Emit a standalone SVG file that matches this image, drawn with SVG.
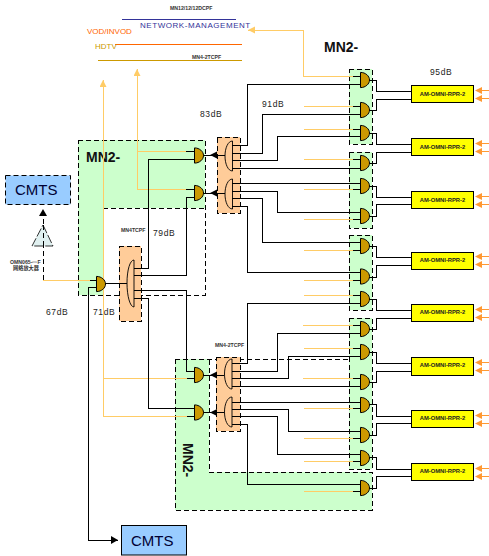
<svg xmlns="http://www.w3.org/2000/svg" xmlns:xlink="http://www.w3.org/1999/xlink" width="489" height="556" viewBox="0 0 489 556">
<style>
text{font-family:"Liberation Sans",Arial,sans-serif;fill:#000}
.db{font-size:8.5px;letter-spacing:.6px;fill:#222}
.tiny{font-size:5.2px;font-weight:bold;fill:#333}
.mn{font-size:14px;font-weight:bold;fill:#111}
.cm{font-size:15px;fill:#003}
.am{font-size:5.8px;font-weight:bold;fill:#222;text-anchor:middle}
.g{fill:#ccffcc;stroke:none}
.d{fill:none;stroke:#000;stroke-width:1;stroke-dasharray:5 3;shape-rendering:crispEdges}
.dg{fill:#ccffcc;stroke:#000;stroke-width:1;stroke-dasharray:5 3;shape-rendering:crispEdges}
.pad{fill:#ffcc99;stroke:#000;stroke-width:1;stroke-dasharray:5 3;shape-rendering:crispEdges}
.k{fill:none;stroke:#000;stroke-width:1;shape-rendering:crispEdges}
.o{fill:none;stroke:#ffcc66;stroke-width:1;shape-rendering:crispEdges}
.box{fill:#ffff00;stroke:#000;stroke-width:1}
.gate{fill:#cc9900;stroke:#000;stroke-width:1}
.spl{fill:none;stroke:#000;stroke-width:.9}
.ar{fill:#ff9933;stroke:none}
.rule{fill:none;stroke-width:1;shape-rendering:crispEdges}
</style>
<defs>
<path id="gate" class="gate" d="M0,-7.6C5,-7.6 9,-4 9,0C9,4 5,7.600 0,7.600Z"/>
<path id="spl" class="spl" d="M7.500,0C3,0 0,7 0,15C0,23 3,30 7.500,30Z"/>
<g id="amin"><path class="ar" d="M2,0L9,-3.500V3.500Z"/><path class="rule" d="M8,0H16" stroke="#ff9933"/></g>
<marker id="ob" markerWidth="8" markerHeight="8" refX="7" refY="3.500" orient="auto" markerUnits="userSpaceOnUse"><path d="M0,0L7,3.500L0,7Z" fill="#ffcc66"/></marker>
<marker id="kb" markerWidth="8" markerHeight="8" refX="7" refY="4" orient="auto" markerUnits="userSpaceOnUse"><path d="M0,0L7,4L0,8Z" fill="#000"/></marker>
</defs>

<g id="legend">
<text class="tiny" x="170" y="10">MN12/12/12DCPF</text>
<path class="rule" d="M122,19.500H236" stroke="#333399"/>
<text x="140" y="28" font-size="8" letter-spacing=".55" style="fill:#333399">NETWORK-MANAGEMENT</text>
<text x="87" y="34" font-size="8" style="fill:#ff6600">VOD/INVOD</text>
<path class="rule" d="M115,44.500H242" stroke="#ff6600"/>
<text x="95" y="49" font-size="8" style="fill:#cc9900">HDTV</text>
<path class="rule" d="M98,60.500H242" stroke="#cc9900"/>
<text class="tiny" x="192" y="59">MN4-2TCPF</text>
</g>

<g id="zone-left">
<path class="g" d="M78,140H205V208H103V295H78Z"/>
<path class="d" d="M78,140H205V295H78ZM103,208H205"/>
<text class="mn" x="86" y="162">MN2-</text>
</g>
<g id="zone-bottom">
<path class="g" d="M175,359H209V472H372V510H175Z"/>
<path class="d" d="M175,359H350M175,359V510H372V472H209V359"/>
<text class="mn" transform="translate(183,443) rotate(90)">MN2-</text>
</g>
<g id="zone-r1"><rect class="dg" x="349" y="69" width="23" height="75"/></g>
<g id="zone-r2"><rect class="dg" x="349" y="152" width="23" height="76"/></g>
<g id="zone-r3"><rect class="dg" x="349" y="235" width="23" height="75"/></g>
<g id="zone-r4"><rect class="dg" x="349" y="318" width="23" height="151"/></g>
<text class="mn" x="324" y="52">MN2-</text>

<g id="pad-1"><rect class="pad" x="217" y="137" width="23" height="76"/><use href="#spl" x="225" y="141"/><use href="#spl" x="225" y="179"/></g>
<g id="pad-2"><rect class="pad" x="119" y="246" width="22" height="75"/><path class="spl" d="M134,260C130,260 127,270 127,283C127,296 130,307 134,307Z"/></g>
<g id="pad-3"><rect class="pad" x="216" y="357" width="24" height="74"/><use href="#spl" x="224.500" y="359"/><use href="#spl" x="224.500" y="397"/></g>

<g id="connectors">
<path class="o" d="M353,76H303V30H248" marker-end="url(#ob)"/>
<path class="o" d="M186,151H137V69" marker-end="url(#ob)"/>
<path class="o" d="M186,189H137V151"/>
<path class="o" d="M187,416H103V80" marker-end="url(#ob)"/>
<path class="o" d="M187,378H103"/>
<path class="o" d="M43,280H90"/>
<path class="o" d="M304,106H353M304,129H353M304,159H353M304,189H353M304,219H353M304,250H353M304,280H353M304,295H353M303,325H353M304,348H353M303,378H353M304,408H353M304,438H353M304,461H353M304,491H353"/>
<path class="k" d="M353,76H360M353,106H360M353,129H360M353,159H360M353,189H360M353,219H360M353,250H360M353,280H360M353,295H360M353,325H360M353,348H360M353,378H360M353,408H360M353,438H360M353,461H360M353,491H360M186,151H194M186,189H194M187,378H194M187,416H194M90,280H96"/>
<path class="k" d="M232,145H247V84H360M232,153H262V114H360M232,160H277V136H360M232,168H360M232,183H360M232,191H277V212H360M232,198H262V242H360M232,206H247V272H360"/>
<path class="k" d="M232,363H247V303H360M232,371H277V333H360M232,378H288V356H360M232,386H360M232,402H360M232,409H288V431H360M232,416H277V454H360M232,424H247V484H360"/>
<path class="k" d="M134,268H148V159H194M134,275H186V197H194M134,290H186V371H194M134,298H148V408H194"/>
<path class="k" d="M96,287H88V540H118" marker-end="url(#kb)"/>
<path class="k" d="M103,283H127"/>
<path class="k" d="M203,155H225"/><path d="M217,151.500V158.500L210,155Z" fill="#000"/>
<path class="k" d="M203,193H225"/><path d="M217,189.500V196.500L210,193Z" fill="#000"/>
<path class="k" d="M203,375H224"/><path d="M217,371.500V378.500L210,375Z" fill="#000"/>
<path class="k" d="M203,412H224"/><path d="M217,409V416L210,412.500Z" fill="#000"/>
<path class="d" d="M43,280V214"/>
<path d="M43,209L47,216H39Z" fill="#000"/>
<path class="k" d="M369,80H376V91H411M369,110H376V99H411M369,133H376V144H411M369,163H376V152H411M369,186H376V197H411M369,216H376V204H411M369,246H376V257H411M369,277H376V265H411M369,299H376V310H411M369,329H376V318H411M369,352H376V363H411M369,382H376V371H411M369,404H376V416H411M369,435H376V423H411M369,457H376V469H411M369,488H376V476H411"/>
</g>

<g id="G-U1"><use href="#gate" x="194.500" y="155.500"/></g>
<g id="G-U2"><use href="#gate" x="194.500" y="193"/></g>
<g id="G-M"><use href="#gate" x="96.500" y="284"/></g>
<g id="G-L1"><use href="#gate" x="194.500" y="375"/></g>
<g id="G-L2"><use href="#gate" x="194.500" y="412.500"/></g>
<g id="G1"><use href="#gate" x="360.500" y="80"/></g>
<g id="G2"><use href="#gate" x="360.500" y="110"/></g>
<g id="G3"><use href="#gate" x="360.500" y="133"/></g>
<g id="G4"><use href="#gate" x="360.500" y="163"/></g>
<g id="G5"><use href="#gate" x="360.500" y="186"/></g>
<g id="G6"><use href="#gate" x="360.500" y="216"/></g>
<g id="G7"><use href="#gate" x="360.500" y="246"/></g>
<g id="G8"><use href="#gate" x="360.500" y="276.500"/></g>
<g id="G9"><use href="#gate" x="360.500" y="299"/></g>
<g id="G10"><use href="#gate" x="360.500" y="329"/></g>
<g id="G11"><use href="#gate" x="360.500" y="352"/></g>
<g id="G12"><use href="#gate" x="360.500" y="382"/></g>
<g id="G13"><use href="#gate" x="360.500" y="405"/></g>
<g id="G14"><use href="#gate" x="360.500" y="435"/></g>
<g id="G15"><use href="#gate" x="360.500" y="458"/></g>
<g id="G16"><use href="#gate" x="360.500" y="488"/></g>

<g id="AM1"><rect class="box" x="411.500" y="85.500" width="62" height="17"/><text class="am" x="442.500" y="96">AM-OMNI-RPR-2</text><use href="#amin" x="473" y="90.500"/><use href="#amin" x="473" y="98.500"/></g>
<g id="AM2"><rect class="box" x="411.500" y="138.500" width="62" height="17"/><text class="am" x="442.500" y="149">AM-OMNI-RPR-2</text><use href="#amin" x="473" y="143.500"/><use href="#amin" x="473" y="151.500"/></g>
<g id="AM3"><rect class="box" x="411.500" y="191.500" width="62" height="17"/><text class="am" x="442.500" y="202">AM-OMNI-RPR-2</text><use href="#amin" x="473" y="196.500"/><use href="#amin" x="473" y="204.500"/></g>
<g id="AM4"><rect class="box" x="411.500" y="252.500" width="62" height="17"/><text class="am" x="442.500" y="262">AM-OMNI-RPR-2</text><use href="#amin" x="473" y="256.500"/><use href="#amin" x="473" y="264.500"/></g>
<g id="AM5"><rect class="box" x="411.500" y="304.500" width="62" height="17"/><text class="am" x="442.500" y="314">AM-OMNI-RPR-2</text><use href="#amin" x="473" y="309.500"/><use href="#amin" x="473" y="317.500"/></g>
<g id="AM6"><rect class="box" x="411.500" y="357.500" width="62" height="18"/><text class="am" x="442.500" y="367">AM-OMNI-RPR-2</text><use href="#amin" x="473" y="362.500"/><use href="#amin" x="473" y="370.500"/></g>
<g id="AM7"><rect class="box" x="411.500" y="410.500" width="62" height="17"/><text class="am" x="442.500" y="420">AM-OMNI-RPR-2</text><use href="#amin" x="473" y="415.500"/><use href="#amin" x="473" y="423.500"/></g>
<g id="AM8"><rect class="box" x="411.500" y="463.500" width="62" height="17"/><text class="am" x="442.500" y="473">AM-OMNI-RPR-2</text><use href="#amin" x="473" y="468.500"/><use href="#amin" x="473" y="476.500"/></g>

<g id="CMTS-top"><rect x="5.500" y="175.500" width="65" height="29" fill="#99ccff" stroke="#000" stroke-width="1" stroke-dasharray="5 3"/><text class="cm" x="15" y="195">CMTS</text></g>
<g id="CMTS-bottom"><rect x="121.500" y="525.500" width="65" height="29.500" fill="#99ccff" stroke="#000" stroke-width="1"/><text class="cm" x="131" y="545.500">CMTS</text></g>

<g id="antenna">
<path d="M43,225L53,246H32Z" fill="#e0f0f0" stroke="#000" stroke-width=".8" stroke-dasharray="9 2"/>
<path class="d" d="M43,225V246"/>
<text class="tiny" x="10" y="264">OMN065-一F</text>
<text class="tiny" x="13" y="270" style="font-family:'Liberation Sans','Noto Sans CJK SC',sans-serif">网络放大器</text>
</g>

<g id="labels">
<text class="db" x="200" y="117">83dB</text>
<text class="db" x="262" y="107">91dB</text>
<text class="db" x="430" y="75">95dB</text>
<text class="db" x="153" y="236">79dB</text>
<text class="db" x="93" y="315">71dB</text>
<text class="db" x="46" y="315">67dB</text>
<text class="tiny" x="121" y="232">MN4TCPF</text>
<text class="tiny" x="215" y="347">MN4-2TCPF</text>
</g>
</svg>
